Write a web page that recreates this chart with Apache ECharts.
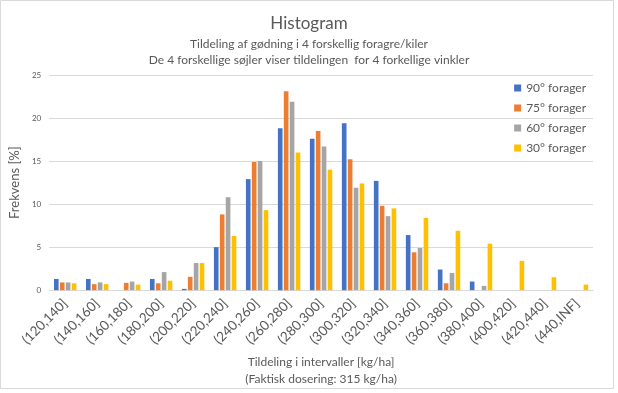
<!DOCTYPE html>
<html>
<head>
<meta charset="utf-8">
<script src="https://cdn.jsdelivr.net/npm/echarts@6/dist/echarts.min.js"></script>
<style>
html,body{margin:0;padding:0;background:#fff;}
#chart{width:618px;height:393px;}
</style>
</head>
<body>
<div id="chart"></div>
<script>
var categories = ['(120,140]','(140,160]','(160,180]','(180,200]','(200,220]','(220,240]','(240,260]','(260,280]','(280,300]','(300,320]','(320,340]','(340,360]','(360,380]','(380,400]','(400,420]','(420,440]','(440,INF]'];
var seriesNames = ['90° forager','75° forager','60° forager','30° forager'];
var values90 = [1.3, 1.3, 0, 1.3, 0.15, 5.0, 12.9, 18.8, 17.6, 19.4, 12.7, 6.4, 2.4, 1.0, 0, 0, 0];
var values75 = [0.9, 0.7, 0.85, 0.8, 1.55, 8.8, 14.9, 23.1, 18.5, 15.2, 9.8, 4.4, 0.8, 0, 0, 0, 0];
var values60 = [0.9, 0.9, 1.0, 2.1, 3.15, 10.8, 15.0, 21.9, 16.7, 11.9, 8.6, 4.9, 2.0, 0.5, 0, 0, 0];
var values30 = [0.8, 0.7, 0.65, 1.1, 3.15, 6.3, 9.3, 16.0, 14.0, 12.4, 9.5, 8.4, 6.9, 5.4, 3.4, 1.5, 0.65];
var yTicks = {min: 0, max: 25, interval: 5};
var colors = ['#4472C4', '#ED7D31', '#A5A5A5', '#FFC000'];

var font = 'Lato, "Noto Sans", sans-serif';
var allValues = [values90, values75, values60, values30];
var chart = echarts.init(document.getElementById('chart'), null, {renderer: 'canvas'});
chart.setOption({
  animation: false,
  color: colors,
  textStyle: {fontFamily: font, color: '#595959'},
  graphic: [{
    type: 'rect', silent: true,
    shape: {x: 0.5, y: 0.5, width: 613, height: 388},
    style: {fill: 'none', stroke: '#d9d9d9', lineWidth: 1}
  }],
  title: {
    left: 'center', top: 10,
    text: 'Histogram',
    textStyle: {fontFamily: font, fontSize: 17, fontWeight: 'normal', color: '#595959'},
    subtext: 'Tildeling af gødning i 4 forskellig foragre/kiler\nDe 4 forskellige søjler viser tildelingen  for 4 forkellige vinkler',
    subtextStyle: {fontFamily: font, fontSize: 12, color: '#595959', lineHeight: 16},
    itemGap: 4
  },
  legend: {
    orient: 'vertical', right: 27, top: 77,
    icon: 'rect', itemWidth: 7, itemHeight: 7, itemGap: 8,
    textStyle: {fontFamily: font, fontSize: 12, color: '#595959'},
    data: seriesNames
  },
  grid: {left: 45, right: 25, top: 75, bottom: 102, containLabel: false},
  xAxis: {
    type: 'category', data: categories,
    axisTick: {show: false},
    axisLine: {lineStyle: {color: '#d9d9d9'}},
    axisLabel: {rotate: 45, interval: 0, fontFamily: font, fontSize: 13.5, color: '#595959', margin: 11},
    name: 'Tildeling i intervaller [kg/ha]\n(Faktisk dosering: 315 kg/ha)',
    nameLocation: 'middle', nameGap: 53,
    nameTextStyle: {fontFamily: font, fontSize: 12, color: '#595959', lineHeight: 17}
  },
  yAxis: {
    type: 'value', min: yTicks.min, max: yTicks.max, interval: yTicks.interval,
    axisLine: {show: false}, axisTick: {show: false},
    splitLine: {lineStyle: {color: '#d9d9d9'}},
    axisLabel: {fontFamily: font, fontSize: 8, color: '#595959', margin: 8},
    name: 'Frekvens [%]', nameLocation: 'middle', nameGap: 8,
    nameTextStyle: {fontFamily: font, fontSize: 13, color: '#595959'}
  },
  series: seriesNames.map(function (n, i) {
    return {
      name: n, type: 'bar', data: allValues[i],
      barGap: '28%', barCategoryGap: '30%'
    };
  })
});
</script>
</body>
</html>
